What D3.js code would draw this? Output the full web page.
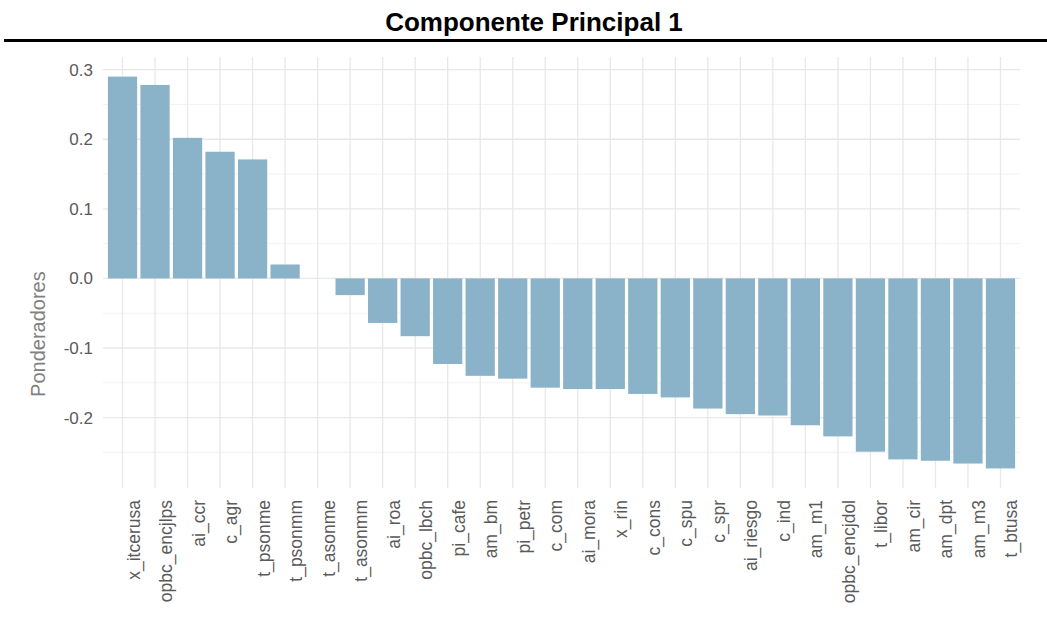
<!DOCTYPE html>
<html>
<head>
<meta charset="utf-8">
<script src="https://cdn.jsdelivr.net/npm/d3@7"></script>
<style>
  body { margin: 0; background: #fff; }
  svg { font-family: "Liberation Sans", Arial, sans-serif; }
</style>
</head>
<body>
<svg id="chart"></svg>
<script>
var variables = ["x_itcerusa","opbc_encjlps","ai_ccr","c_agr","t_psonme","t_psonmm","t_asonme","t_asonmm",
  "ai_roa","opbc_lbch","pi_cafe","am_bm","pi_petr","c_com","ai_mora","x_rin","c_cons","c_spu","c_spr",
  "ai_riesgo","c_ind","am_m1","opbc_encjdol","t_libor","am_cir","am_dpt","am_m3","t_btusa"]
var ponderadores = [0.290, 0.278, 0.202, 0.182, 0.171, 0.020, 0.000, -0.024,
  -0.064, -0.083, -0.123, -0.140, -0.144, -0.157, -0.159, -0.159, -0.166, -0.171, -0.187,
  -0.195, -0.197, -0.211, -0.227, -0.249, -0.260, -0.262, -0.266, -0.273]
var yTicks = [-0.2, -0.1, 0.0, 0.1, 0.2, 0.3]
var yMinor = [-0.25, -0.15, -0.05, 0.05, 0.15, 0.25]

var screen = {width: 1047, height: 629}
var panel = {left: 103, right: 1020, top: 57, bottom: 488}

var svg = d3.select("#chart")
  .attr("width", screen.width)
  .attr("height", screen.height)

// ggplot style expansion of 5%
var lo = d3.min(ponderadores), hi = d3.max(ponderadores)
var pad = (hi - lo) * 0.05

var xScale = d3.scaleBand()
  .domain(variables)
  .range([panel.left, panel.right])
  .paddingInner(0.1)
  .paddingOuter(0.15)

var yScale = d3.scaleLinear()
  .domain([lo - pad, hi + pad])
  .range([panel.bottom, panel.top])

// grid
svg.append("g").selectAll("line.minor")
  .data(yMinor).enter().append("line")
  .attr("x1", panel.left).attr("x2", panel.right)
  .attr("y1", function(d){ return yScale(d) }).attr("y2", function(d){ return yScale(d) })
  .attr("stroke", "#efefef").attr("stroke-width", 0.8)

svg.append("g").selectAll("line.major")
  .data(yTicks).enter().append("line")
  .attr("x1", panel.left).attr("x2", panel.right)
  .attr("y1", function(d){ return yScale(d) }).attr("y2", function(d){ return yScale(d) })
  .attr("stroke", "#e8e8e8").attr("stroke-width", 1.3)

svg.append("g").selectAll("line.vert")
  .data(variables).enter().append("line")
  .attr("x1", function(d){ return xScale(d) + xScale.bandwidth()/2 })
  .attr("x2", function(d){ return xScale(d) + xScale.bandwidth()/2 })
  .attr("y1", panel.top).attr("y2", panel.bottom)
  .attr("stroke", "#e8e8e8").attr("stroke-width", 1.3)

// bars
svg.append("g").selectAll("rect")
  .data(ponderadores).enter().append("rect")
  .attr("x", function(d, i){ return xScale(variables[i]) })
  .attr("width", xScale.bandwidth())
  .attr("y", function(d){ return yScale(Math.max(0, d)) })
  .attr("height", function(d){ return Math.abs(yScale(d) - yScale(0)) })
  .attr("fill", "#8ab3c9")

// y axis
var yAxis = d3.axisLeft(yScale)
  .tickValues(yTicks)
  .tickSize(0)
  .tickPadding(10)
  .tickFormat(function(d){ return d3.format(".1f")(d).replace("\u2212", "-") })

svg.append("g").classed("yAxis", true)
  .attr("transform", "translate(" + panel.left + ",0)")
  .call(yAxis)
  .call(function(g){ g.select(".domain").remove() })
  .selectAll("text")
  .attr("font-size", 17)
  .attr("fill", "#5a5a5a")
  .attr("font-family", "Liberation Sans, Arial, sans-serif")

// x axis
var xAxis = d3.axisBottom(xScale).tickSize(0)
svg.append("g").classed("xAxis", true)
  .attr("transform", "translate(0," + panel.bottom + ")")
  .call(xAxis)
  .call(function(g){ g.select(".domain").remove() })
  .selectAll("text")
  .attr("font-size", 17.5)
  .attr("fill", "#5a5a5a")
  .attr("font-family", "Liberation Sans, Arial, sans-serif")
  .attr("text-anchor", "end")
  .attr("dy", null)
  .attr("y", 0)
  .attr("transform", "translate(17,12) rotate(-90)")

// y label
svg.append("text")
  .attr("transform", "translate(45," + yScale(-0.08) + ") rotate(-90)")
  .attr("text-anchor", "middle")
  .attr("font-size", 20)
  .attr("fill", "#808080")
  .text("Ponderadores")

// title and rule
svg.append("text")
  .attr("x", 534).attr("y", 31)
  .attr("text-anchor", "middle")
  .attr("font-size", 26)
  .attr("font-weight", "bold")
  .attr("fill", "#000")
  .text("Componente Principal 1")

svg.append("line")
  .attr("x1", 4).attr("x2", screen.width)
  .attr("y1", 40.5).attr("y2", 40.5)
  .attr("stroke", "#000").attr("stroke-width", 3)
</script>
</body>
</html>
